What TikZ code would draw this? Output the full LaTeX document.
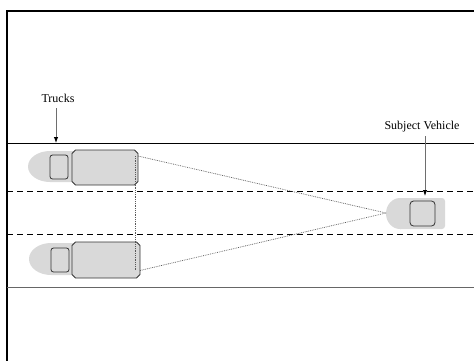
\documentclass[tikz,border=0pt]{standalone}
\usepackage{fontspec}
\setmainfont{Liberation Serif}
\usetikzlibrary{arrows.meta}
\definecolor{bodygrey}{HTML}{D9D9D9}
\definecolor{edgegrey}{HTML}{333333}
\definecolor{shaftgrey}{HTML}{6E6E6E}
\tikzset{
  frame/.style={line width=2pt, line cap=rect},
  roadedge/.style={line width=0.9pt},
  laneline/.style={line width=0.9pt, dash pattern=on 6pt off 4pt},
  cabshape/.style={fill=bodygrey, draw=none},
  window/.style={draw=edgegrey, fill=bodygrey, line width=0.8pt, rounded corners=2.5pt},
  trailer/.style={draw=edgegrey, fill=bodygrey, line width=0.8pt},
  sightline/.style={draw=gray!70!black, line width=0.7pt, dash pattern=on 0.8pt off 1pt},
  pointer/.style={draw=shaftgrey, line width=1pt, -{Latex[color=black,length=6pt,width=4.5pt]}},
  caption/.style={font=\fontsize{12}{14}\selectfont, inner sep=0pt}
}
\begin{document}
\begin{tikzpicture}[x=1pt,y=-1pt]
\useasboundingbox (0,0) rectangle (474,360);

% outer frame (top and left edges)
\draw[frame] (7,360) -- (7,11) -- (474,11);

% road edges and lane markings
\draw[roadedge] (7,143) -- (474,143);
\draw[roadedge, draw=gray!80!black] (7,287) -- (474,287);
\draw[laneline] (7,191) -- (474,191);
\draw[laneline] (7,234) -- (474,234);

% upper truck
\path[cabshape] (76,151) -- (50,151) arc[start angle=270, end angle=90, x radius=22, y radius=15.5] -- (76,182) -- cycle;
\node[window, minimum width=18pt, minimum height=24pt, inner sep=0pt] (cabA) at (59,167) {};
\path[trailer] (75.5,150) -- (134.5,150) -- (138,153.5) -- (138,181.5) -- (134.5,185) -- (75.5,185) -- (72,181.5) -- (72,153.5) -- cycle;

% lower truck
\path[cabshape] (76,243) -- (51,243) arc[start angle=270, end angle=90, x radius=22, y radius=16] -- (76,275) -- cycle;
\node[window, minimum width=18pt, minimum height=24pt, inner sep=0pt] (cabB) at (60,260) {};
\path[trailer] (75.5,242) -- (136.5,242) -- (140,245.5) -- (140,274.5) -- (136.5,278) -- (75.5,278) -- (72,274.5) -- (72,245.5) -- cycle;

% subject vehicle
\path[cabshape, rounded corners=3pt] (400,198) -- (445,198) -- (445,229) -- (400,229);
\path[cabshape] (401,198) -- (400,198) arc[start angle=270, end angle=90, x radius=14, y radius=15.5] -- (401,229) -- cycle;
\node[window, minimum width=25pt, minimum height=25pt, inner sep=0pt, rounded corners=3.5pt] (cabS) at (422.5,213.5) {};

% lines of sight
\coordinate (rearA) at (135,156);
\coordinate (rearB) at (135,271);
\coordinate (eye) at (386,213);
\draw[sightline] (rearA) -- (rearB);
\draw[sightline] (138,156) -- (eye);
\draw[sightline] (140,270.5) -- (eye);

% labels with pointers
\node[caption] (trucks) at (58,98) {Trucks};
\coordinate (trucksTip) at (56,143);
\draw[pointer] (56,108) -- (trucksTip);

\node[caption] (subject) at (422,127) {Subject Vehicle};
\coordinate (subjectTip) at (425,196);
\draw[pointer] (425,136) -- (subjectTip);
\end{tikzpicture}
\end{document}
